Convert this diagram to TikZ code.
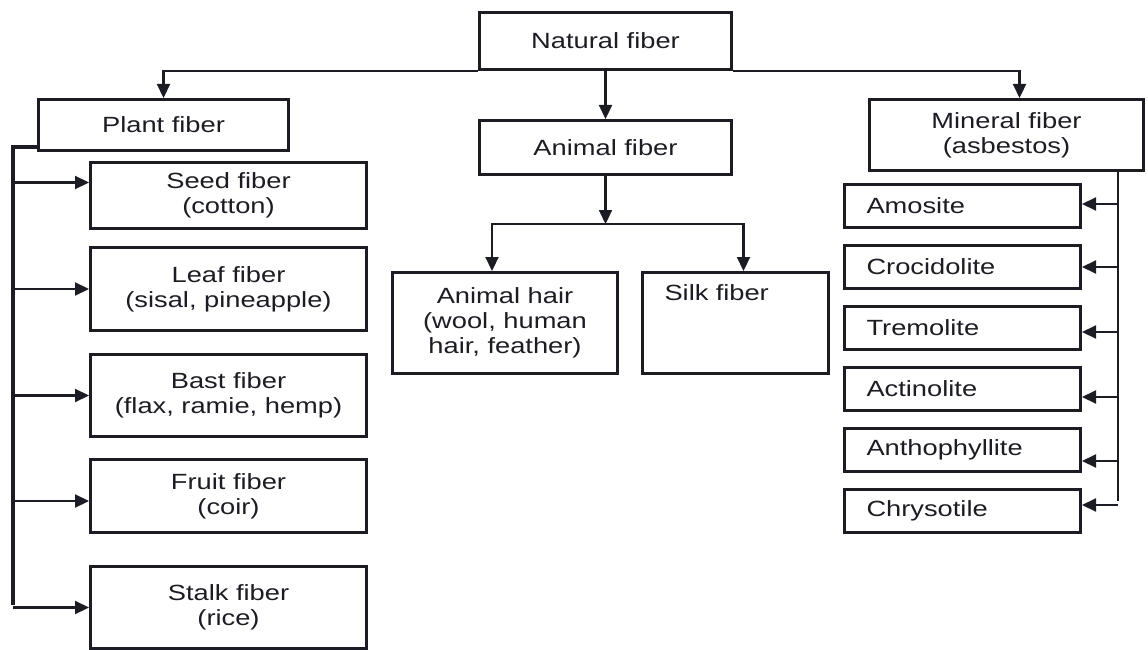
\documentclass[tikz,border=0pt]{standalone}
\usepackage{fontspec}
\setmainfont[FakeStretch=1.24]{Liberation Sans}
\usepackage{tikz}
\usetikzlibrary{arrows.meta, positioning}
\definecolor{ink}{RGB}{28,28,36}
\tikzstyle{box} = [rectangle, draw = ink, line width = 3pt, text = ink,
  align = center, inner sep = 0pt, anchor = north west,
  font = \fontsize{22pt}{25pt}\selectfont]
\tikzstyle{plbox} = [box, minimum width = 276pt]
\tikzstyle{minbox} = [
  box, align = left,
  inner xsep = 22pt, text width = 192pt,
  minimum height = 43pt
]
\tikzstyle{link} = [draw = ink, line width = 2.2pt]

\begin{document}
\begin{tikzpicture}[x = 1pt, y = -1pt, node distance = 15pt,
    >={Triangle[length = 14pt, width = 13pt]}]
      \useasboundingbox (0, 0) rectangle (1148, 650);

      \node [box, minimum width = 252pt, minimum height = 57pt] (natural) at (478, 11) {Natural fiber};
      \node [box, minimum width = 250pt, minimum height = 51pt] (plant) at (37, 98) {Plant fiber};
      \node [box, minimum width = 252pt, minimum height = 54pt] (animal) at (478, 119) {Animal fiber};
      \node [box, minimum width = 274pt, minimum height = 71pt] (mineral) at (868, 98) {Mineral fiber\\(asbestos)};

      % plant fibers
      \node [plbox, minimum height = 66pt] (seed) at (89, 161) {Seed fiber\\(cotton)};
      \node [plbox, minimum height = 83pt] (leaf) at (89, 246) {Leaf fiber\\(sisal, pineapple)};
      \node [plbox, minimum height = 82pt] (bast) at (89, 353) {Bast fiber\\(flax, ramie, hemp)};
      \node [plbox, minimum height = 73pt] (fruit) at (89, 458) {Fruit fiber\\(coir)};
      \node [plbox, minimum height = 82pt] (stalk) at (89, 565) {Stalk fiber\\(rice)};

      % animal fibers
      \node [box, minimum width = 225pt, minimum height = 101pt] (hair) at (391, 271) {Animal hair\\(wool, human\\hair, feather)};
      \node [box, align = left, inner xsep = 22pt, inner ysep = 0pt, text width = 142pt,
        text height = 28pt, text depth = 73pt] (silk) at (641, 271) {Silk fiber};

      % mineral fibers
      \node [minbox] (amosite) at (843, 183) {Amosite};
      \node [minbox, below = of amosite] (crocidolite) {Crocidolite};
      \node [minbox, below = of crocidolite] (tremolite) {Tremolite};
      \node [minbox, below = of tremolite] (actinolite) {Actinolite};
      \node [minbox, below = of actinolite] (anthophyllite) {Anthophyllite};
      \node [minbox, below = of anthophyllite] (chrysotile) {Chrysotile};

      \coordinate (plant-bus) at (13, 147);
      \coordinate (plant-end) at (13, 605);
      \path (animal.south) ++(0, 48) coordinate (animal-split);
      \coordinate (mineral-bus) at (1118, 170);
      \coordinate (mineral-end) at (1118, 501);

      \draw [link, ->] (natural.south west) -| (plant.north);
      \draw [link, ->] (natural.south east) -| ([xshift = 13pt]mineral.north);
      \draw [link, ->] (natural.south) -- (animal.north);

      \draw [link, line width = 3.2pt] (plant-bus -| plant.west) -- (plant-bus) -- (plant-end);
      \draw [link, ->] ([yshift = 13pt]seed.west -| plant-bus) -- ([yshift = 13pt]seed.west);
      \draw [link, ->] (leaf.west -| plant-bus) -- (leaf.west);
      \draw [link, ->] (bast.west -| plant-bus) -- (bast.west);
      \draw [link, ->] ([yshift = -5pt]fruit.west -| plant-bus) -- ([yshift = -5pt]fruit.west);
      \draw [link, ->] (stalk.west -| plant-bus) -- (stalk.west);

      \draw [link, ->] (animal.south) -- (animal-split);
      \draw [link, ->] (animal-split) -| ([xshift = -13pt]hair.north);
      \draw [link, ->] (animal-split) -| ([xshift = 8pt]silk.north);

      \draw [link] (mineral-bus) -- (mineral-end);
      \draw [link, ->] ([yshift = 2pt]amosite.east -| mineral-bus) -- ([yshift = 2pt]amosite.east);
      \draw [link, ->] (crocidolite.east -| mineral-bus) -- (crocidolite.east);
      \draw [link, ->] ([yshift = -4pt]tremolite.east -| mineral-bus) -- ([yshift = -4pt]tremolite.east);
      \draw [link, ->] ([yshift = -8pt]actinolite.east -| mineral-bus) -- ([yshift = -8pt]actinolite.east);
      \draw [link, ->] ([yshift = -11pt]anthophyllite.east -| mineral-bus) -- ([yshift = -11pt]anthophyllite.east);
      \draw [link, ->] ([yshift = 6pt]chrysotile.east -| mineral-bus) -- ([yshift = 6pt]chrysotile.east);
    \end{tikzpicture}
\end{document}
